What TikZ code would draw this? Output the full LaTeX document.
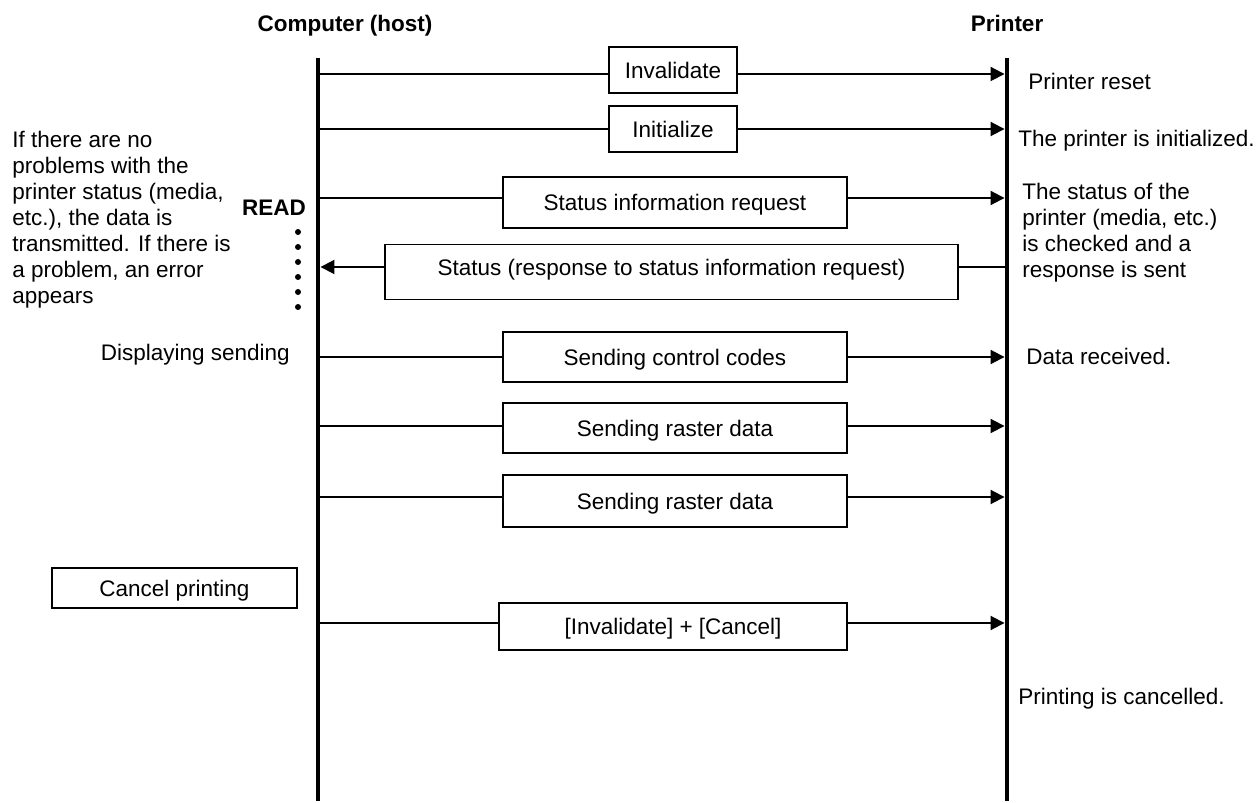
\documentclass[tikz,border=0pt]{standalone}
\usepackage{fontspec}
\setmainfont{Liberation Sans}
\usetikzlibrary{arrows.meta,positioning}

\begin{document}
\begin{tikzpicture}[>={Triangle[length=0.28cm,width=0.28cm]},
  every node/.style={font=\fontsize{12.8}{14.8}\selectfont},
  head/.style={font=\fontsize{12.8}{14.8}\selectfont\bfseries, anchor=base},
  msg/.style={draw, line width=0.8pt, inner sep=0pt, text height=0.33cm, text depth=0cm},
  note/.style={align=left, inner sep=0pt},
  life/.style={line width=2.8pt},
  call/.style={line width=1.1pt}]
  \useasboundingbox (0,0) rectangle (25.16,-16.06);

  % Headers and lifelines
  \node[head] (host) at (6.9,-0.64) {Computer (host)};
  \node[head] (printer) at (20.14,-0.64) {Printer};
  \coordinate (htop) at (6.36,-1.16);
  \coordinate (hbot) at (6.36,-16.02);
  \coordinate (ptop) at (20.14,-1.16);
  \coordinate (pbot) at (20.14,-16.02);
  \draw[life] (htop) -- (hbot);
  \draw[life] (ptop) -- (pbot);

  % Row ends on the lifelines
  \foreach \i/\y in {1/-1.48,2/-2.58,3/-3.96,4/-5.34,5/-7.14,6/-8.52,7/-9.94,8/-12.46}{
    \coordinate (h\i) at (6.36,\y);
    \coordinate (p\i) at (20.14,\y);
  }

  % Message boxes
  \node[msg, minimum width=2.56cm, minimum height=0.92cm] (b1) at (13.46,-1.4) {Invalidate};
  \node[msg, minimum width=2.56cm, minimum height=0.92cm] (b2) at (13.46,-2.58) {Initialize};
  \node[msg, minimum width=6.88cm, minimum height=1.02cm] (b3) at (13.5,-4.05) {Status information request};
  \node[msg, minimum width=11.46cm, text height=0.62cm, text depth=0.48cm, anchor=north] (b4) at (13.43,-4.88)
    {Status (response to status information request)};
  \node[msg, minimum width=6.88cm, minimum height=1.0cm] (b5) at (13.5,-7.14) {Sending control codes};
  \node[msg, minimum width=6.88cm, minimum height=1.0cm] (b6) at (13.5,-8.56) {Sending raster data};
  \node[msg, minimum width=6.88cm, minimum height=1.04cm] (b7) at (13.5,-10.02) {Sending raster data};
  \node[msg, minimum width=6.96cm, minimum height=0.94cm] (b8) at (13.46,-12.53) {[Invalidate] + [Cancel]};
  \node[msg, minimum width=4.9cm, minimum height=0.8cm] (cancel) at (3.49,-11.76) {Cancel printing};

  % Host to printer
  \foreach \i in {1,2,3,5,6,7,8}{
    \draw[call] (h\i) -- (h\i -| b\i.west);
    \draw[call,->,shorten >=1.4pt] (b\i.east |- p\i) -- (p\i);
  }
  % Printer to host
  \draw[call] (p4) -- (p4 -| b4.east);
  \draw[call,->,shorten >=1.4pt] (b4.west |- h4) -- (h4);

  % Host side notes
  \node[note, anchor=north west] (cond) at (0.24,-2.62)
    {If there are no\\problems with the\\printer status (media,\\etc.), the data is\\transmitted. If there is\\a problem, an error\\appears};
  \node[head] (read) at (5.48,-4.32) {READ};
  \foreach \k in {0,...,5}
    \fill (5.96,-4.64-0.3*\k) circle (0.06);
  \node[note, anchor=base east] (disp) at (5.8,-7.22) {Displaying sending};

  % Printer side notes
  \node[note, anchor=base west] (reset) at (20.56,-1.8) {Printer reset};
  \node[note, anchor=base west] (init) at (20.36,-2.94) {The printer is initialized.};
  \node[note, anchor=north west] (check) at (20.44,-3.66)
    {The status of the\\printer (media, etc.)\\is checked and a\\response is sent};
  \node[note, anchor=base west] (recv) at (20.52,-7.3) {Data received.};
  \node[note, anchor=base west] (done) at (20.36,-14.1) {Printing is cancelled.};
\end{tikzpicture}
\end{document}
